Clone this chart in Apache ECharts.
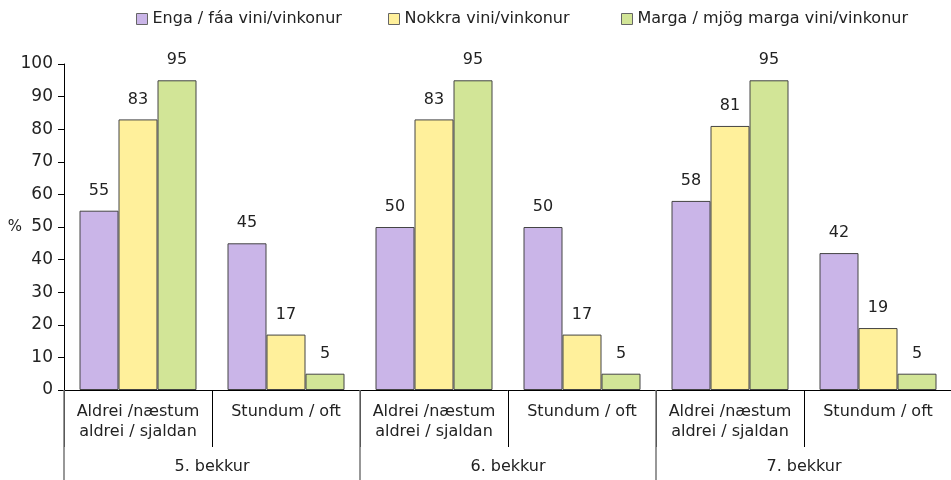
<!DOCTYPE html>
<html>
<head>
<meta charset="utf-8">
<script src="https://cdn.jsdelivr.net/npm/echarts@6/dist/echarts.min.js"></script>
<style>
  html, body { margin: 0; padding: 0; background: #fff; }
  #chart { width: 951px; height: 480px; }
</style>
</head>
<body>
<div id="chart"></div>
<script type="text/javascript">
// flokkar (inner) og bekkir (outer)
var categories = ["Aldrei /næstum\naldrei / sjaldan", "Stundum / oft",
                  "Aldrei /næstum\naldrei / sjaldan", "Stundum / oft",
                  "Aldrei /næstum\naldrei / sjaldan", "Stundum / oft"];
var grades = ["5. bekkur", "6. bekkur", "7. bekkur"];
var seriesNames = ["Enga / fáa vini/vinkonur", "Nokkra vini/vinkonur", "Marga / mjög marga vini/vinkonur"];
var engaValues = [55, 45, 50, 50, 58, 42];
var nokkraValues = [83, 17, 83, 17, 81, 19];
var margaValues = [95, 5, 95, 5, 95, 5];
var yTicks = [0, 100, 10]; // min, max, interval

var colors = ["#CAB5E8", "#FFF09B", "#D2E597"];
var font = "DejaVu Sans";

var myChart = echarts.init(document.getElementById("chart"));

function legendAt(name, left) {
  return {
    data: [name],
    left: left,
    top: 11,
    padding: 0,
    itemWidth: 11,
    itemHeight: 11,
    icon: "rect",
    itemStyle: { borderColor: "#666", borderWidth: 1 },
    textStyle: { fontFamily: font, fontSize: 16, color: "#222" }
  };
}

function barSeries(name, values, color) {
  return {
    name: name,
    type: "bar",
    data: values,
    barWidth: 39,
    barGap: "0%",
    itemStyle: { color: color, borderColor: "#444", borderWidth: 1 },
    label: {
      show: true,
      position: "top",
      distance: 12,
      fontFamily: font,
      fontSize: 16,
      color: "#222"
    }
  };
}

var option = {
  animation: false,
  legend: [
    legendAt(seriesNames[0], 136),
    legendAt(seriesNames[1], 388),
    legendAt(seriesNames[2], 621)
  ],
  grid: { left: 64, right: -1, top: 64, bottom: 90, containLabel: false, outerBoundsMode: "none" },
  xAxis: [
    {
      type: "category",
      data: categories,
      axisLine: { lineStyle: { color: "#000", width: 1 } },
      axisTick: { show: true, length: 57, interval: 0, lineStyle: { color: "#000" } },
      axisLabel: {
        interval: 0,
        margin: 12,
        fontFamily: font,
        fontSize: 16,
        lineHeight: 20,
        color: "#222"
      }
    },
    {
      type: "category",
      data: grades,
      position: "bottom",
      axisLine: { show: false },
      axisTick: { show: true, length: 92, lineStyle: { color: "#777", width: 1.5 } },
      axisLabel: {
        margin: 69,
        fontFamily: font,
        fontSize: 16,
        color: "#222"
      }
    }
  ],
  yAxis: {
    type: "value",
    min: yTicks[0],
    max: yTicks[1],
    interval: yTicks[2],
    name: "%",
    nameLocation: "middle",
    nameRotate: 0,
    nameGap: 42,
    nameMoveOverlap: false,
    nameTextStyle: { fontFamily: font, fontSize: 15, color: "#222" },
    axisLine: { show: true, lineStyle: { color: "#000" } },
    axisTick: { show: true, length: 6, lineStyle: { color: "#000" } },
    splitLine: { show: false },
    axisLabel: { margin: 11, fontFamily: font, fontSize: 17, color: "#222" }
  },
  series: [
    barSeries(seriesNames[0], engaValues, colors[0]),
    barSeries(seriesNames[1], nokkraValues, colors[1]),
    barSeries(seriesNames[2], margaValues, colors[2])
  ]
};

myChart.setOption(option);
window.onresize = myChart.resize;
</script>
</body>
</html>
